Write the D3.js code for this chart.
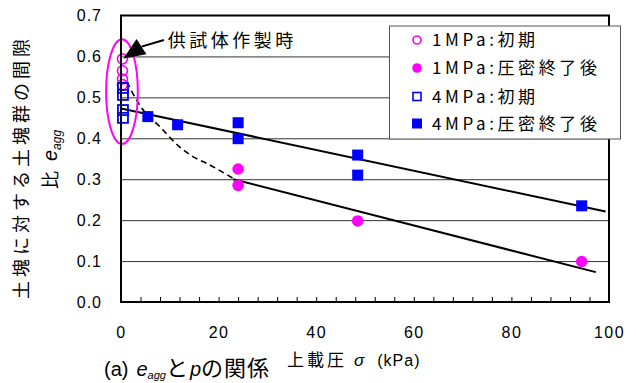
<!DOCTYPE html>
<html>
<head>
<meta charset="utf-8">
<script src="https://cdn.jsdelivr.net/npm/d3@7"></script>
<style>
	body { margin: 0; background: #fff; }
	svg { display: block; }
</style>
</head>
<body>
<div id="chart"></div>
<script>
// values
const xTicks = [0, 20, 40, 60, 80, 100]
const yTicks = [0, 0.1, 0.2, 0.3, 0.4, 0.5, 0.6, 0.7]
const gridTicks = [0.1, 0.2, 0.3, 0.4, 0.5, 0.6]

// 1MPa initial (open circles)
const init1X = [0.3, 0.3, 0.3, 0.3]
const init1Y = [0.594, 0.565, 0.545, 0.531]
// 4MPa initial (open squares)
const init4X = [0.4, 0.4, 0.4, 0.4]
const init4Y = [0.523, 0.506, 0.469, 0.450]
// 1MPa after consolidation (filled circles)
const cons1X = [24, 24, 48.5, 94.4]
const cons1Y = [0.325, 0.285, 0.198, 0.099]
// 4MPa after consolidation (filled squares)
const cons4X = [5.5, 11.6, 24, 24, 48.5, 48.5, 94.4]
const cons4Y = [0.453, 0.433, 0.438, 0.399, 0.359, 0.310, 0.235]

// fitted lines and the dashed trend
const fit4X = [0, 99.3]
const fit4Y = [0.473, 0.221]
const fit1X = [23, 97.3]
const fit1Y = [0.300, 0.073]
const trendX = [1.2, 4, 8, 12, 14.5, 18, 23]
const trendY = [0.538, 0.478, 0.428, 0.379, 0.357, 0.336, 0.302]

const legendNames = ["1MPa:初期", "1MPa:圧密終了後", "4MPa:初期", "4MPa:圧密終了後"]

const width = 636
const height = 383
const margin = ({top: 15.5, right: 27, bottom: 81, left: 121})

const MAG = "#ff00ff"
const BLUE = "#0000ff"
const numFont = "'Liberation Sans', Arial, sans-serif"
const jpFont = "'Noto Sans CJK JP', 'Noto Sans', sans-serif"

const svg = d3.select("#chart")
	.append("svg")
		.attr("width", width)
		.attr("height", height)

const x = d3.scaleLinear()
	.domain([0, 100])
	.range([margin.left, width - margin.right])

const y = d3.scaleLinear()
	.domain([0, 0.7])
	.range([height - margin.bottom, margin.top])

const zip = (xs, ys) => xs.map((v, i) => [v, ys[i]])

// gridlines
svg.append("g")
	.attr("transform", `translate(${margin.left},0)`)
	.call(d3.axisLeft(y).tickValues(gridTicks).tickSize(-(x(100) - x(0))).tickFormat(""))
	.call(g => g.select(".domain").remove())
	.call(g => g.selectAll(".tick line").attr("stroke", "#333").attr("stroke-width", 1))

// y tick labels
svg.append("g")
	.attr("transform", `translate(${margin.left},0)`)
	.call(d3.axisLeft(y).tickValues(yTicks).tickSize(0).tickPadding(19).tickFormat(d3.format(".1f")))
	.call(g => g.select(".domain").remove())
	.call(g => g.selectAll("text")
		.attr("font-family", numFont)
		.attr("font-size", 16)
		.attr("letter-spacing", 1)
		.attr("fill", "#000"))

// x tick labels
svg.append("g")
	.attr("transform", `translate(0,${y(0)})`)
	.call(d3.axisBottom(x).tickValues(xTicks).tickSize(0).tickPadding(25))
	.call(g => g.select(".domain").remove())
	.call(g => g.selectAll("text")
		.attr("font-family", numFont)
		.attr("font-size", 16)
		.attr("letter-spacing", 1.5)
		.attr("fill", "#000"))

// minor ticks, inside the frame
svg.append("g")
	.attr("transform", `translate(0,${y(0)})`)
	.call(d3.axisBottom(x).tickValues(d3.range(4, 100, 4)).tickSize(-5).tickFormat(""))
	.call(g => g.select(".domain").remove())
	.call(g => g.selectAll(".tick line").attr("stroke", "#000").attr("stroke-width", 1))

const line = d3.line()
	.x(d => x(d[0]))
	.y(d => y(d[1]))

svg.append("path")
	.attr("d", line(zip(fit4X, fit4Y)))
	.attr("fill", "none")
	.attr("stroke", "#000")
	.attr("stroke-width", 2)

svg.append("path")
	.attr("d", line(zip(fit1X, fit1Y)))
	.attr("fill", "none")
	.attr("stroke", "#000")
	.attr("stroke-width", 2)

svg.append("path")
	.attr("d", line.curve(d3.curveMonotoneX)(zip(trendX, trendY)))
	.attr("fill", "none")
	.attr("stroke", "#000")
	.attr("stroke-width", 1.6)
	.attr("stroke-dasharray", "6,4")

// ellipse around the initial points
const ell = {cx: 0.2, cy: 0.514, rx: 3.25, ry: 0.128}
svg.append("ellipse")
	.attr("cx", x(ell.cx))
	.attr("cy", y(ell.cy))
	.attr("rx", x(ell.cx + ell.rx) - x(ell.cx))
	.attr("ry", y(ell.cy - ell.ry) - y(ell.cy))
	.attr("fill", "none")
	.attr("stroke", MAG)
	.attr("stroke-width", 2)

// markers
svg.append("g")
	.selectAll("circle")
	.data(zip(init1X, init1Y))
	.join("circle")
		.attr("cx", d => x(d[0]))
		.attr("cy", d => y(d[1]))
		.attr("r", 5)
		.attr("fill", "none")
		.attr("stroke", MAG)
		.attr("stroke-width", 1.6)

svg.append("g")
	.selectAll("rect")
	.data(zip(init4X, init4Y))
	.join("rect")
		.attr("x", d => x(d[0]) - 5)
		.attr("y", d => y(d[1]) - 5)
		.attr("width", 10)
		.attr("height", 10)
		.attr("fill", "none")
		.attr("stroke", BLUE)
		.attr("stroke-width", 1.8)

svg.append("g")
	.selectAll("circle")
	.data(zip(cons1X, cons1Y))
	.join("circle")
		.attr("cx", d => x(d[0]))
		.attr("cy", d => y(d[1]))
		.attr("r", 5.8)
		.attr("fill", MAG)

svg.append("g")
	.selectAll("rect")
	.data(zip(cons4X, cons4Y))
	.join("rect")
		.attr("x", d => x(d[0]) - 5.5)
		.attr("y", d => y(d[1]) - 5.5)
		.attr("width", 11)
		.attr("height", 11)
		.attr("fill", BLUE)

// frame
svg.append("rect")
	.attr("x", x(0))
	.attr("y", y(0.7))
	.attr("width", x(100) - x(0))
	.attr("height", y(0) - y(0.7))
	.attr("fill", "none")
	.attr("stroke", "#000")
	.attr("stroke-width", 2)

// arrow to the specimen-making point
const arrowTip = [0.5, 0.595]
const arrowBase = [4.2, 0.624]
const arrowTail = [8.8, 0.640]
svg.append("line")
	.attr("x1", x(arrowTail[0])).attr("y1", y(arrowTail[1]))
	.attr("x2", x(arrowBase[0])).attr("y2", y(arrowBase[1]))
	.attr("stroke", "#000")
	.attr("stroke-width", 2)
{
	const tx = x(arrowTip[0]), ty = y(arrowTip[1])
	const bx = x(arrowBase[0]), by = y(arrowBase[1])
	const dx = tx - bx, dy = ty - by
	const len = Math.hypot(dx, dy)
	const nx = -dy / len * 9, ny = dx / len * 9
	svg.append("path")
		.attr("d", `M${tx},${ty}L${bx + nx},${by + ny}L${bx - nx},${by - ny}Z`)
		.attr("fill", "#000")
}
svg.append("text")
	.attr("x", x(9.6))
	.attr("y", y(0.640))
	.attr("dy", "0.36em")
	.attr("font-family", jpFont)
	.attr("font-size", 18)
	.attr("letter-spacing", 3.5)
	.text("供試体作製時")

// legend
const legend = svg.append("g")
legend.append("rect")
	.attr("x", 389.5)
	.attr("y", 26)
	.attr("width", 231)
	.attr("height", 113)
	.attr("fill", "#fff")
	.attr("stroke", "#555")
	.attr("stroke-width", 1)

const rowY = [40, 68, 96.5, 123.5]
const items = legend.selectAll("g.item")
	.data(legendNames)
	.join("g")
		.attr("class", "item")
		.attr("transform", (d, i) => `translate(417,${rowY[i]})`)

items.each(function(d, i) {
	const g = d3.select(this)
	if (i == 0) g.append("circle").attr("r", 4).attr("fill", "none").attr("stroke", MAG).attr("stroke-width", 1.6)
	if (i == 1) g.append("circle").attr("r", 4.8).attr("fill", MAG)
	if (i == 2) g.append("rect").attr("x", -4).attr("y", -4).attr("width", 8).attr("height", 8)
		.attr("fill", "none").attr("stroke", BLUE).attr("stroke-width", 1.6)
	if (i == 3) g.append("rect").attr("x", -5).attr("y", -5).attr("width", 10).attr("height", 10).attr("fill", BLUE)
})

items.append("text")
	.attr("x", 15)
	.attr("dy", "0.36em")
	.attr("font-family", jpFont)
	.attr("font-size", 17)
	.attr("letter-spacing", 3.6)
	.text(d => d)

// y axis title (two rotated lines)
svg.append("text")
	.attr("transform", "translate(28,167) rotate(-90)")
	.attr("text-anchor", "middle")
	.attr("font-family", jpFont)
	.attr("font-size", 18)
	.attr("letter-spacing", 4)
	.text("土塊に対する土塊群の間隙")

const yt2 = svg.append("text")
	.attr("transform", "translate(57,189) rotate(-90)")
	.attr("font-family", jpFont)
	.attr("font-size", 18)
yt2.append("tspan").text("比")
yt2.append("tspan").attr("dx", 10).attr("font-family", numFont).attr("font-style", "italic")
	.attr("font-size", 20).text("e")
yt2.append("tspan").attr("font-family", numFont).attr("font-style", "italic")
	.attr("font-size", 12).attr("dy", 4).text("agg")

// x axis title
const xt = svg.append("text")
	.attr("x", 287)
	.attr("y", 366)
	.attr("font-family", jpFont)
	.attr("font-size", 17)
xt.append("tspan").attr("letter-spacing", 3).text("上載圧")
xt.append("tspan").attr("dx", 7).attr("font-family", numFont).attr("font-style", "italic").text("σ")
xt.append("tspan").attr("dx", 13).attr("font-family", numFont).attr("font-size", 16)
	.attr("letter-spacing", 1).text("(kPa)")

// caption
const cap = svg.append("text")
	.attr("x", 104)
	.attr("y", 376)
	.attr("font-family", jpFont)
	.attr("font-size", 22)
cap.append("tspan").attr("font-family", numFont).attr("font-size", 20).text("(a)")
cap.append("tspan").attr("dx", 8).attr("font-family", numFont).attr("font-style", "italic").attr("font-size", 20).text("e")
cap.append("tspan").attr("font-family", numFont).attr("font-style", "italic").attr("font-size", 11).attr("dy", 3).text("agg")
cap.append("tspan").attr("dy", -3).text("と")
cap.append("tspan").attr("dx", 2).attr("font-family", numFont).attr("font-style", "italic").attr("font-size", 20).text("p")
cap.append("tspan").attr("letter-spacing", 1).text("の関係")
</script>
</body>
</html>
